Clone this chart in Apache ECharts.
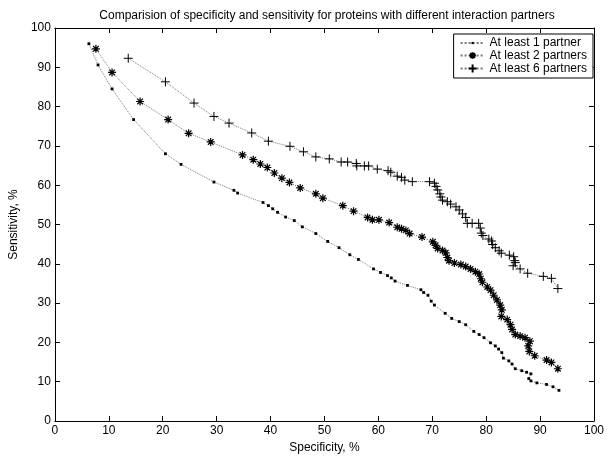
<!DOCTYPE html>
<html>
<head>
<meta charset="utf-8">
<script src="https://cdn.jsdelivr.net/npm/echarts@6/dist/echarts.min.js"></script>
<style>
  html, body { margin: 0; padding: 0; background: #fff; }
  #chart { width: 607px; height: 459px; }
</style>
</head>
<body>
<div id="chart"></div>
<script>
const seriesNames = ["At least 1 partner", "At least 2 partners", "At least 6 partners"];
const axisTicks = [0, 10, 20, 30, 40, 50, 60, 70, 80, 90, 100];

// at least 1 partner (specificity, sensitivity)
const spec1 = [6.3, 8.0, 10.6, 14.6, 20.5, 23.4, 29.5, 33.2, 33.9, 38.6, 39.6, 40.4, 41.3, 42.8, 44.4, 45.9, 48.4, 50.6, 52.7, 54.7, 56.3, 59.1, 60.4, 61.7, 62.4, 63.1, 65.4, 67.9, 68.4, 69.2, 69.8, 70.4, 72.4, 73.6, 75.0, 76.2, 77.7, 78.7, 79.6, 80.8, 81.7, 82.3, 82.9, 83.2, 84.2, 84.8, 85.4, 86.6, 87.5, 88.3, 87.9, 88.3, 89.4, 91.2, 92.4, 93.5];
const sens1 = [96.0, 90.6, 84.5, 76.7, 68.0, 65.3, 60.8, 58.7, 58.0, 55.6, 54.8, 54.0, 53.1, 51.9, 51.0, 49.4, 47.7, 45.7, 44.1, 42.3, 41.1, 38.7, 37.8, 37.0, 36.4, 35.6, 34.5, 33.4, 32.7, 32.0, 30.5, 29.5, 27.4, 26.1, 25.3, 24.5, 22.8, 22.0, 21.2, 19.9, 19.1, 18.3, 17.4, 16.0, 15.3, 14.5, 13.3, 12.8, 12.4, 12.0, 10.8, 10.2, 9.7, 9.3, 8.7, 7.8];

// at least 2 partners
const spec2 = [7.6, 10.6, 15.8, 21.0, 24.8, 28.9, 34.8, 36.8, 38.1, 39.4, 40.7, 42.1, 43.5, 45.5, 48.4, 49.7, 53.4, 55.4, 58.0, 58.9, 60.1, 62.0, 63.5, 64.3, 65.1, 65.8, 68.1, 70.1, 70.6, 71.0, 71.9, 72.5, 72.8, 73.1, 74.1, 75.3, 76.2, 77.1, 78.0, 78.7, 79.0, 79.3, 80.2, 80.8, 81.4, 82.0, 82.6, 82.9, 82.8, 83.9, 84.5, 84.8, 85.4, 86.3, 87.2, 88.1, 87.8, 88.0, 89.0, 91.2, 92.1, 93.3];
const sens2 = [94.7, 88.7, 81.3, 76.7, 73.2, 71.0, 67.7, 66.5, 65.4, 64.5, 63.1, 61.8, 60.7, 59.3, 57.8, 56.7, 54.8, 53.4, 51.8, 51.2, 51.2, 50.5, 49.3, 48.9, 48.5, 47.7, 46.8, 45.6, 44.7, 43.9, 43.4, 42.8, 41.6, 40.8, 40.2, 39.8, 39.3, 38.7, 38.0, 37.4, 36.2, 35.3, 34.1, 33.3, 32.0, 30.8, 29.5, 28.3, 26.6, 25.8, 24.5, 23.3, 22.0, 21.6, 21.2, 20.3, 19.1, 17.7, 16.6, 15.5, 14.9, 13.3];

// at least 6 partners
const spec6 = [13.6, 20.5, 25.8, 29.5, 32.3, 36.5, 39.6, 43.6, 46.1, 48.4, 50.9, 53.1, 54.3, 55.9, 56.0, 57.4, 58.2, 59.8, 61.8, 62.3, 63.5, 64.3, 64.9, 66.3, 69.5, 70.4, 70.7, 71.0, 71.4, 71.6, 71.9, 72.8, 73.4, 74.4, 75.0, 75.6, 76.2, 76.5, 77.4, 78.6, 78.9, 79.1, 79.4, 80.5, 81.0, 81.2, 81.7, 82.4, 82.8, 84.3, 85.1, 85.3, 85.4, 85.0, 86.3, 87.7, 90.6, 92.1, 93.3];
const sens6 = [92.3, 86.3, 80.9, 77.5, 75.8, 73.3, 71.2, 69.9, 68.5, 67.2, 66.7, 65.9, 65.9, 65.5, 64.9, 64.9, 64.9, 64.1, 63.7, 63.3, 62.3, 62.0, 61.3, 60.9, 60.9, 60.5, 59.7, 58.8, 57.8, 57.0, 56.2, 55.8, 55.2, 54.5, 53.7, 52.7, 51.8, 50.3, 50.3, 50.3, 49.1, 47.8, 47.2, 46.3, 45.8, 44.9, 44.1, 43.3, 42.7, 42.2, 41.8, 40.8, 40.3, 39.5, 38.7, 37.6, 36.8, 36.3, 33.7];

const pairs = (xs, ys) => xs.map((x, i) => [x, ys[i]]);

const chart = echarts.init(document.getElementById("chart"), null, { renderer: "canvas" });

const fontFamily = "Liberation Sans, Arial, sans-serif";
// marks are padded inside their box so the legend icons stay small
const dot = "path://M0,0M3.6,3.6L6.4,3.6L6.4,6.4L3.6,6.4ZM10,10";
const asterisk = "path://M0,0M1,6L11,6M6,1L6,11M2.5,2.5L9.5,9.5M2.5,9.5L9.5,2.5M12,12";
const plus = "path://M0,5L10,5M5,0L5,10";

const dottedLine = { type: "dotted", color: "#777", width: 1 };

function boxAxis(position, show) {
  return {
    type: "value",
    position: position,
    min: axisTicks[0],
    max: axisTicks[axisTicks.length - 1],
    interval: 10,
    axisLine: { show: true, onZero: false, lineStyle: { color: "#000", width: 1 } },
    axisTick: { show: true, inside: true, length: 5, lineStyle: { color: "#000" } },
    axisLabel: { show: show, color: "#000", fontSize: 12, fontFamily: fontFamily, margin: 4 },
    splitLine: { show: false },
  };
}

const xBottom = Object.assign(boxAxis("bottom", true), {
  name: "Specificity, %",
  nameLocation: "middle",
  nameGap: 21,
  nameTextStyle: { color: "#000", fontSize: 12, fontFamily: fontFamily },
});
const yLeft = Object.assign(boxAxis("left", true), {
  name: "Sensitivity, %",
  nameLocation: "middle",
  nameGap: 28,
  nameTextStyle: { color: "#000", fontSize: 12, fontFamily: fontFamily },
});

const option = {
  animation: false,
  title: {
    text: "Comparision of specificity and sensitivity for proteins with different interaction partners",
    left: 322,
    textAlign: "center",
    top: 5,
    textStyle: { color: "#000", fontSize: 12, fontWeight: "normal", fontFamily: fontFamily },
  },
  grid: { left: 48, right: 13, top: 28, bottom: 31 },
  legend: {
    data: seriesNames,
    orient: "vertical",
    right: 14,
    top: 34,
    align: "left",
    backgroundColor: "#fff",
    borderColor: "#000",
    borderWidth: 1,
    borderRadius: 0,
    padding: [3, 6, 3, 6],
    itemGap: 0,
    itemWidth: 24,
    itemHeight: 10,
    textStyle: { color: "#000", fontSize: 12, fontFamily: fontFamily },
  },
  xAxis: [xBottom, boxAxis("top", false)],
  yAxis: [yLeft, boxAxis("right", false)],
  series: [
    {
      name: seriesNames[0],
      type: "line",
      data: pairs(spec1, sens1),
      symbol: dot,
      symbolSize: 10,
      itemStyle: { color: "#000" },
      lineStyle: dottedLine,
      emphasis: { disabled: true },
    },
    {
      name: seriesNames[1],
      type: "line",
      data: pairs(spec2, sens2),
      symbol: asterisk,
      symbolSize: 9.6,
      itemStyle: { color: "none", borderColor: "#000", borderWidth: 1.2 },
      lineStyle: dottedLine,
      emphasis: { disabled: true },
    },
    {
      name: seriesNames[2],
      type: "line",
      data: pairs(spec6, sens6),
      symbol: plus,
      symbolSize: 9,
      itemStyle: { color: "none", borderColor: "#000", borderWidth: 1 },
      lineStyle: dottedLine,
      emphasis: { disabled: true },
    },
  ],
};

chart.setOption(option);
</script>
</body>
</html>
